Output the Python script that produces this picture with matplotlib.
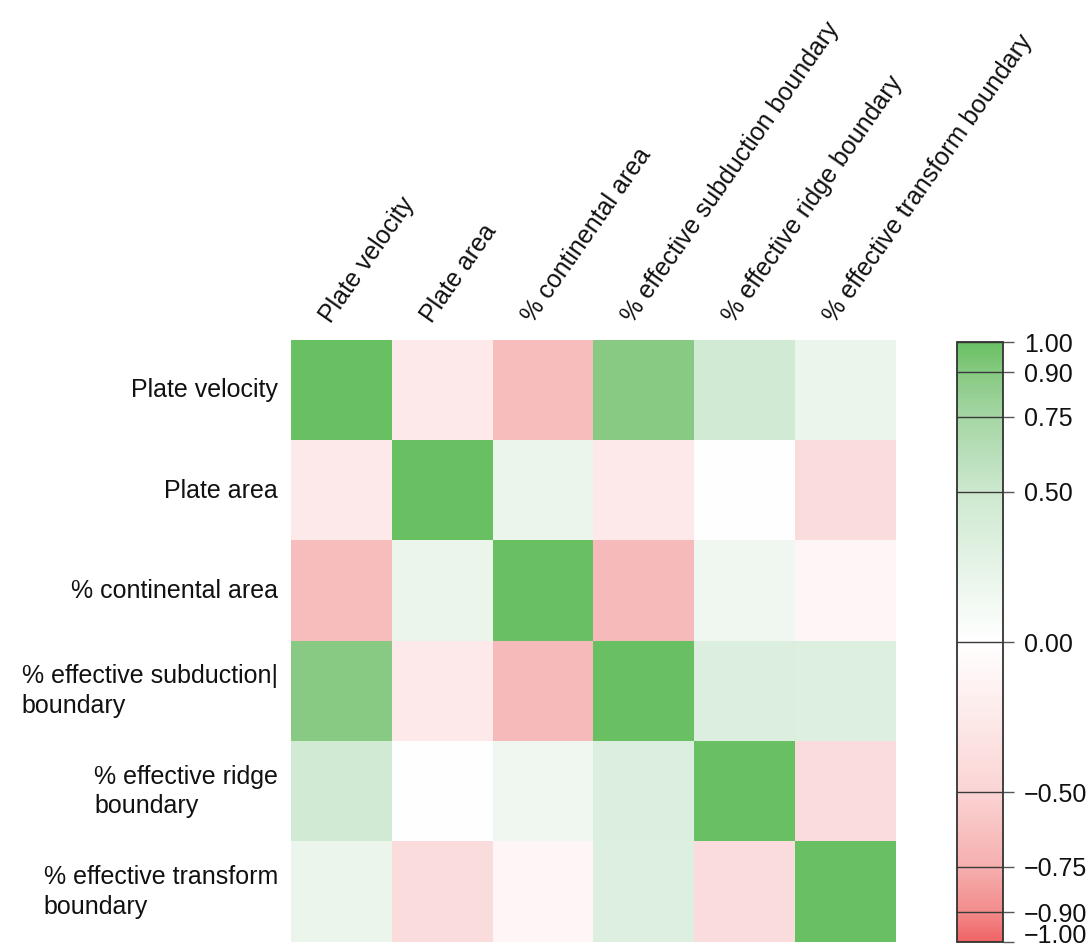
import numpy as np
import matplotlib
matplotlib.use("Agg")
import matplotlib.pyplot as plt
import matplotlib.transforms as mtransforms
from matplotlib.colors import LinearSegmentedColormap

plt.rcParams['font.family'] = ['Liberation Sans', 'DejaVu Sans']

# Variables compared in the correlation matrix
col_labels = ["Plate velocity", "Plate area", "% continental area",
              "% effective subduction boundary", "% effective ridge boundary",
              "% effective transform boundary"]
row_labels = ["Plate velocity", "Plate area", "% continental area",
              "% effective subduction|\nboundary", "% effective ridge\nboundary",
              "% effective transform\nboundary"]

# Pairwise correlation coefficients (symmetric)
r_velocity = [1.00, -0.25, -0.65, 0.89, 0.45, 0.20]
r_area = [-0.25, 1.00, 0.20, -0.25, 0.02, -0.40]
r_continental = [-0.65, 0.20, 1.00, -0.67, 0.15, -0.10]
r_subduction = [0.89, -0.25, -0.67, 1.00, 0.35, 0.33]
r_ridge = [0.45, 0.02, 0.15, 0.35, 1.00, -0.40]
r_transform = [0.20, -0.40, -0.10, 0.33, -0.40, 1.00]

cbar_ticks = [-1.00, -0.90, -0.75, -0.50, 0.00, 0.50, 0.75, 0.90, 1.00]

corr = np.array([r_velocity, r_area, r_continental, r_subduction, r_ridge, r_transform])

# Red-white-green diverging map, saturating quickly near +/-1
stops = [
    (-1.00, (240, 100, 100)),
    (-0.90, (243, 140, 140)),
    (-0.75, (246, 175, 175)),
    (-0.50, (251, 212, 212)),
    (0.00, (255, 255, 255)),
    (0.50, (205, 232, 207)),
    (0.75, (165, 214, 165)),
    (0.90, (135, 202, 130)),
    (1.00, (105, 192, 98)),
]
cmap = LinearSegmentedColormap.from_list(
    "rwg", [((v + 1) / 2, tuple(c / 255 for c in rgb)) for v, rgb in stops])

W, H = 1090, 950
fig = plt.figure(figsize=(W / 100, H / 100), dpi=100)
ax = fig.add_axes([291 / W, 1 - 942 / H, 604 / W, 602 / H])
im = ax.imshow(corr, cmap=cmap, vmin=-1, vmax=1, aspect="auto",
               interpolation="nearest")
ax.set_xticks([])
ax.set_yticks([])
for s in ax.spines.values():
    s.set_visible(False)

fs = 18
for j, lab in enumerate(col_labels):
    ax.text(j - 0.06, -0.5 - 0.13, lab, rotation=55, rotation_mode="anchor",
            ha="left", va="bottom", fontsize=fs, color="#111111")
for i, lab in enumerate(row_labels):
    ax.text(-0.5 - 0.13, i, lab, ha="right", va="center",
            multialignment="left", fontsize=fs, color="#111111",
            linespacing=1.3)

cax = fig.add_axes([957 / W, 1 - 942 / H, 46 / W, 600 / H])
cb = fig.colorbar(im, cax=cax, ticks=cbar_ticks)
cb.set_ticklabels([f"{t:.2f}".replace("-", "\u2212") for t in cbar_ticks])
cb.ax.tick_params(length=8, width=1, color="#555555", pad=7,
                  labelsize=fs, labelcolor="#111111")
cb.outline.set_edgecolor("#333333")
cb.outline.set_linewidth(1.3)
for t in cbar_ticks:
    cax.axhline(t, color="#3a3a3a", lw=1)

# keep the lowest colorbar label inside the canvas
fig.canvas.draw()
lowest = cb.ax.get_yticklabels()[0]
lowest.set_transform(lowest.get_transform() +
                     mtransforms.ScaledTranslation(0, 6 / 72, fig.dpi_scale_trans))

fig.savefig("out.png", dpi=100)
